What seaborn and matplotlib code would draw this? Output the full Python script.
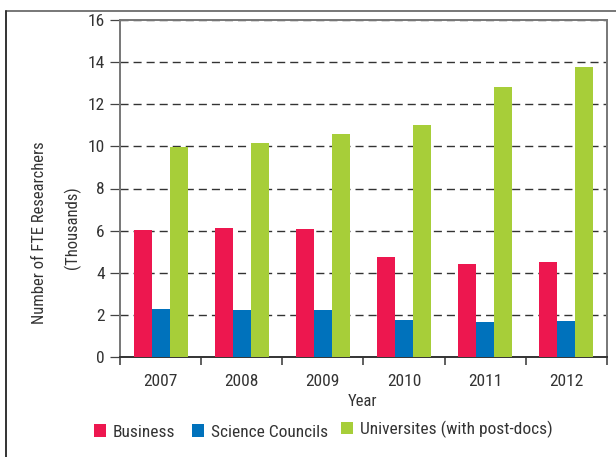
import matplotlib
matplotlib.use("Agg")
import matplotlib.pyplot as plt
from matplotlib.lines import Line2D
from matplotlib.ticker import FixedLocator
from matplotlib import font_manager
import seaborn as sns
import pandas as pd

years = ["2007", "2008", "2009", "2010", "2011", "2012"]
business = [6.05, 6.14, 6.10, 4.76, 4.43, 4.52]
science_councils = [2.29, 2.24, 2.24, 1.76, 1.67, 1.71]
universities = [9.95, 10.14, 10.57, 11.00, 12.81, 13.76]
series_names = ["Business", "Science Councils", "Universites (with post-docs)"]
colors = ["#ED174F", "#0072BC", "#A7CE39"]
y_ticks = [0, 2, 4, 6, 8, 10, 12, 14, 16]

df = pd.DataFrame({
    "Year": years * 3,
    "Series": [series_names[0]] * 6 + [series_names[1]] * 6 + [series_names[2]] * 6,
    "Value": business + science_councils + universities,
})

available = {f.name for f in font_manager.fontManager.ttflist}
font_choice = "DejaVu Sans"
for cand in ["Liberation Sans Narrow", "Roboto Condensed", "Open Sans Condensed",
             "Arial Narrow", "Liberation Sans"]:
    if cand in available:
        font_choice = cand
        break
narrow = font_choice != "Liberation Sans" and font_choice != "DejaVu Sans"
FS = 12 if narrow else 11.5

sns.set_theme(style="white")
plt.rcParams["font.family"] = [font_choice, "DejaVu Sans"]
plt.rcParams["text.color"] = "#333333"
plt.rcParams["axes.labelcolor"] = "#333333"
plt.rcParams["xtick.color"] = "#333333"
plt.rcParams["ytick.color"] = "#333333"

fig = plt.figure(figsize=(6.16, 4.57), dpi=100)
W, H = 616, 457
ax = fig.add_axes([120 / W, 1 - 357 / H, (607 - 120) / W, (357 - 20) / H])

sns.barplot(data=df, x="Year", y="Value", hue="Series", palette=colors,
            width=0.665, ax=ax, saturation=1, edgecolor="none", linewidth=0,
            zorder=3, legend=True)

ax.set_xlim(-0.5, 5.5)
ax.set_ylim(0, 16)
ax.set_yticks(y_ticks)
ax.set_yticklabels([str(t) for t in y_ticks], fontsize=FS + 0.5)
ax.tick_params(axis="y", which="major", direction="out", length=7, width=0.9,
               pad=4, left=True, color="#444444")

ax.set_xticks(range(len(years)))
ax.set_xticklabels(years, fontsize=FS + 0.5)
ax.tick_params(axis="x", which="major", length=0, pad=12)
ax.xaxis.set_minor_locator(FixedLocator([-0.5, 0.5, 1.5, 2.5, 3.5, 4.5, 5.5]))
ax.tick_params(axis="x", which="minor", direction="out", length=6, width=1.2,
               bottom=True, color="#444444")

ax.yaxis.grid(True, linestyle=(0, (5.8, 3.6)), color="#333333", linewidth=1.0)
ax.xaxis.grid(False)
ax.set_axisbelow(True)

for side in ["left", "top", "right"]:
    ax.spines[side].set_color("#777777")
    ax.spines[side].set_linewidth(1.4)
ax.spines["bottom"].set_color("#333333")
ax.spines["bottom"].set_linewidth(1.4)

ax.set_xlabel("")
ax.set_ylabel("")
fig.text(362 / W, 1 - 402 / H, "Year", ha="center", va="center", fontsize=FS)
fig.text(40 / W, 1 - 233 / H, "Number of FTE Researchers", rotation=90,
         ha="center", va="center", fontsize=FS)
fig.text(72 / W, 1 - 228 / H, "(Thousands)", rotation=90,
         ha="center", va="center", fontsize=FS)

handles, labels = ax.get_legend_handles_labels()
ax.get_legend().remove()
legend_pos = [(94, 432), (192, 432), (341, 429)]
for h, lab, (lx, ly) in zip(handles, labels, legend_pos):
    fig.legend([h], [lab], loc="center left", bbox_to_anchor=(lx / W, 1 - ly / H),
               frameon=False, fontsize=FS + 0.5, handlelength=0.7, handleheight=0.7,
               handletextpad=0.4, borderaxespad=0, borderpad=0)

# outer frame
fig.add_artist(Line2D([5.5 / W, 1.0], [1 - 11 / H, 1 - 11 / H], transform=fig.transFigure,
                      color="#777777", linewidth=1.4))
fig.add_artist(Line2D([6 / W, 6 / W], [0, 1 - 11 / H], transform=fig.transFigure,
                      color="#333333", linewidth=1.4))

fig.savefig("out.png", dpi=100)
